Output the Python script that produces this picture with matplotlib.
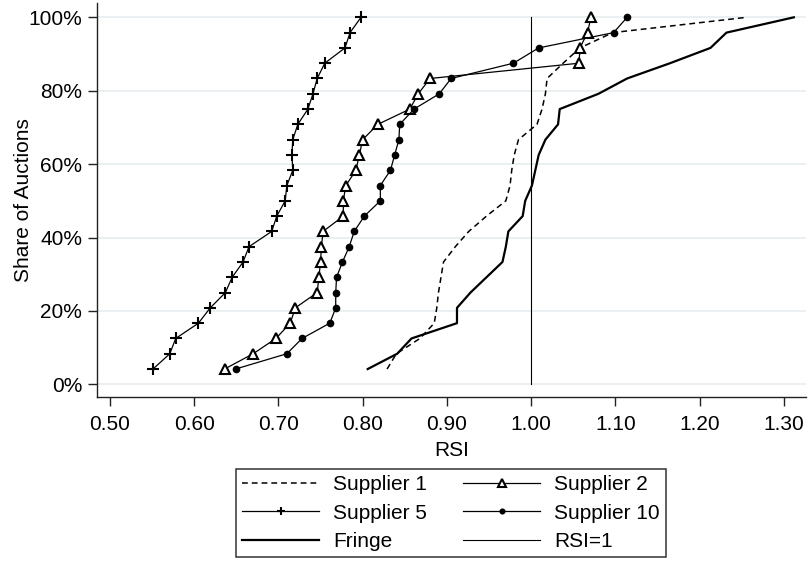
import matplotlib
matplotlib.use('Agg')
import matplotlib.pyplot as plt
from matplotlib.ticker import PercentFormatter, MultipleLocator

plt.rcParams['font.family'] = ['Liberation Sans', 'DejaVu Sans']

# share of auctions (cumulative, 24 auctions)
share = [1/24, 2/24, 3/24, 4/24, 5/24, 6/24, 7/24, 8/24, 9/24, 10/24, 11/24, 12/24,
         13/24, 14/24, 15/24, 16/24, 17/24, 18/24, 19/24, 20/24, 21/24, 22/24, 23/24, 24/24]

rsi_sup1 = [0.829, 0.840, 0.868, 0.885, 0.888, 0.890, 0.893, 0.896, 0.910, 0.926, 0.947, 0.970,
            0.975, 0.977, 0.980, 0.985, 1.007, 1.013, 1.017, 1.019, 1.038, 1.058, 1.097, 1.256]
rsi_sup2 = [0.636, 0.670, 0.697, 0.714, 0.720, 0.746, 0.748, 0.750, 0.751, 0.753, 0.777, 0.777,
            0.780, 0.792, 0.796, 0.800, 0.818, 0.856, 0.866, 0.880, 1.057, 1.058, 1.067, 1.071]
rsi_sup5 = [0.551, 0.571, 0.578, 0.605, 0.619, 0.637, 0.645, 0.658, 0.665, 0.692, 0.698, 0.708,
            0.710, 0.717, 0.716, 0.717, 0.723, 0.735, 0.741, 0.746, 0.755, 0.779, 0.785, 0.798]
rsi_sup10 = [0.649, 0.710, 0.728, 0.761, 0.768, 0.768, 0.769, 0.776, 0.784, 0.790, 0.802, 0.821,
             0.821, 0.833, 0.838, 0.843, 0.844, 0.861, 0.891, 0.905, 0.979, 1.009, 1.098, 1.114]
rsi_fringe = [0.806, 0.841, 0.858, 0.912, 0.912, 0.928, 0.947, 0.966, 0.970, 0.973, 0.990, 0.993,
              1.001, 1.005, 1.009, 1.017, 1.032, 1.034, 1.080, 1.114, 1.165, 1.213, 1.232, 1.312]
ref_x = [1.0, 1.0]
ref_y = [0.0, 1.0]

fs = 15

fig = plt.figure(figsize=(8.08, 5.68), dpi=100)
ax = fig.add_axes([0.1197, 0.3005, 0.878, 0.6942])

h1, = ax.plot(rsi_sup1, share, color='black', lw=1.1, dashes=(3.8, 2.6), label='Supplier 1')
h2, = ax.plot(rsi_sup2, share, color='black', lw=0.9, marker='^', ms=7, mfc='white', mec='black',
              mew=1.5, label='Supplier 2')
h5, = ax.plot(rsi_sup5, share, color='black', lw=0.9, marker='+', ms=8, mew=1.5, label='Supplier 5')
h10, = ax.plot(rsi_sup10, share, color='black', lw=0.9, marker='o', ms=4.5, label='Supplier 10')
hf, = ax.plot(rsi_fringe, share, color='black', lw=1.6, label='Fringe')
hr, = ax.plot(ref_x, ref_y, color='black', lw=0.8, label='RSI=1')

ax.set_xlim(0.4842, 1.3266)
ax.set_ylim(-0.0354, 1.039)
ax.xaxis.set_major_locator(MultipleLocator(0.1))
ax.xaxis.set_major_formatter(plt.FormatStrFormatter('%.2f'))
ax.yaxis.set_major_locator(MultipleLocator(0.2))
ax.yaxis.set_major_formatter(PercentFormatter(xmax=1, decimals=0))

ax.grid(axis='y', color='#e8eef1', lw=1.3)
ax.set_axisbelow(True)
for s in ['top', 'right']:
    ax.spines[s].set_visible(False)
for s in ['left', 'bottom']:
    ax.spines[s].set_color('#222222')
    ax.spines[s].set_linewidth(1.0)
ax.tick_params(axis='both', labelsize=fs, length=6.5, width=1.0, color='#222222')
ax.tick_params(axis='x', pad=6)
ax.tick_params(axis='y', pad=4)

ax.set_xlabel('RSI', fontsize=fs, labelpad=5)
ax.set_ylabel('Share of Auctions', fontsize=fs, labelpad=-3)

# legend filled row by row
handles = [h1, h5, hf, h2, h10, hr]
leg = fig.legend(handles=handles, labels=[h.get_label() for h in handles],
                 loc='center', bbox_to_anchor=(0.558, 0.0968), ncol=2, fontsize=fs,
                 frameon=True, fancybox=False, edgecolor='black', numpoints=1,
                 handlelength=3.7, handletextpad=0.65, columnspacing=1.75,
                 labelspacing=0.45, markerscale=0.75, borderpad=0.3, borderaxespad=0)
leg.get_frame().set_linewidth(1.1)

fig.savefig('out.png', dpi=100)
